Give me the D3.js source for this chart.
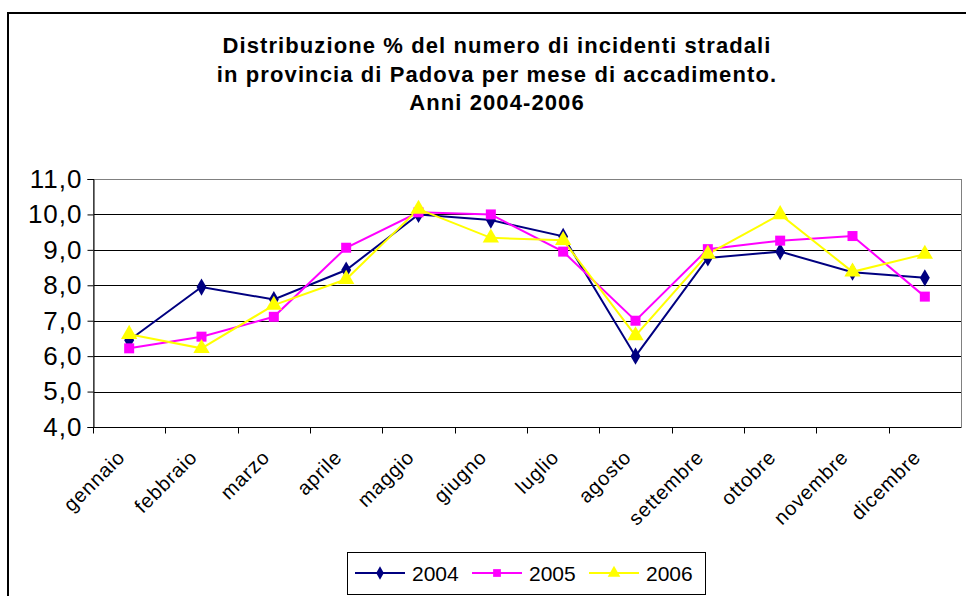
<!DOCTYPE html>
<html>
<head>
<meta charset="utf-8">
<script src="https://cdn.jsdelivr.net/npm/d3@7"></script>
<style>
  body { margin: 0; background: #fff; }
  text { font-family: "Liberation Sans", Arial, sans-serif; }
</style>
</head>
<body>
<script>
// months on the x axis
const months = ["gennaio", "febbraio", "marzo", "aprile", "maggio", "giugno",
                "luglio", "agosto", "settembre", "ottobre", "novembre", "dicembre"];

// % of road accidents per month
const y2004 = [6.45, 7.95, 7.6, 8.43, 10.0, 9.84, 9.38, 6.0, 8.77, 8.95, 8.37, 8.21];
const y2005 = [6.22, 6.55, 7.11, 9.06, 10.06, 10.0, 8.95, 7.0, 9.02, 9.26, 9.39, 7.68];
const y2006 = [6.62, 6.22, 7.44, 8.17, 10.15, 9.34, 9.27, 6.58, 8.88, 10.0, 8.38, 8.88];

const yTicks = [4, 5, 6, 7, 8, 9, 10, 11];
const titleLines = ["Distribuzione % del numero di incidenti stradali",
                    "in provincia di Padova per mese di accadimento.",
                    "Anni 2004-2006"];

const series = [
  { name: "2004", values: y2004, color: "#000080", marker: d3.symbolDiamond, size: 85 },
  { name: "2005", values: y2005, color: "#ff00ff", marker: d3.symbolSquare, size: 100 },
  { name: "2006", values: y2006, color: "#ffff00", marker: d3.symbolTriangle, size: 115 }
];

const W = 966, H = 596;
const plot = { left: 93, right: 961, top: 179, bottom: 427 };

const svg = d3.select("body").append("svg")
  .attr("width", W)
  .attr("height", H);

// outer chart frame (runs off the right and bottom of the picture)
svg.append("rect")
  .attr("x", 8).attr("y", 13)
  .attr("width", W + 10).attr("height", H + 10)
  .attr("fill", "none")
  .attr("stroke", "#000")
  .attr("stroke-width", 2);

// title
svg.append("g").selectAll("text")
  .data(titleLines)
  .join("text")
  .attr("x", 497)
  .attr("y", (d, i) => 53 + i * 28.5)
  .attr("text-anchor", "middle")
  .attr("font-size", 22)
  .attr("font-weight", "bold")
  .attr("letter-spacing", 1.1)
  .text(d => d);

const x = d3.scaleBand()
  .domain(months)
  .range([plot.left, plot.right]);

const y = d3.scaleLinear()
  .domain([4, 11])
  .range([plot.bottom, plot.top]);

// grid lines
svg.append("g").selectAll("line")
  .data(yTicks.slice(1, -1))
  .join("line")
  .attr("x1", plot.left).attr("x2", plot.right)
  .attr("y1", d => Math.round(y(d)) + 0.5)
  .attr("y2", d => Math.round(y(d)) + 0.5)
  .attr("stroke", "#000");

// plot area border
svg.append("rect")
  .attr("x", plot.left + 0.5).attr("y", plot.top + 0.5)
  .attr("width", plot.right - plot.left)
  .attr("height", plot.bottom - plot.top)
  .attr("fill", "none")
  .attr("stroke", "#808080");

// y axis
const yAxis = svg.append("g")
  .attr("transform", "translate(" + (plot.left + 0.5) + ",0)")
  .call(d3.axisLeft(y).tickValues(yTicks).tickSize(6).tickPadding(5)
    .tickFormat(d => d3.format(".1f")(d).replace(".", ",")));
yAxis.select(".domain").attr("stroke", "#000");
yAxis.selectAll("text").attr("font-size", 26).attr("fill", "#000")
  .attr("letter-spacing", 1)
  .attr("font-family", "Liberation Sans, Arial, sans-serif");

// x axis: ticks at category boundaries
const xAxis = svg.append("g")
  .attr("transform", "translate(0," + (plot.bottom + 0.5) + ")");
xAxis.append("line")
  .attr("x1", plot.left).attr("x2", plot.right)
  .attr("stroke", "#000");
xAxis.selectAll("line.tick")
  .data(months)
  .join("line")
  .attr("class", "tick")
  .attr("x1", d => Math.round(x(d)) + 0.5)
  .attr("x2", d => Math.round(x(d)) + 0.5)
  .attr("y1", 0).attr("y2", 6)
  .attr("stroke", "#000");
xAxis.selectAll("text")
  .data(months)
  .join("text")
  .attr("transform", d => "translate(" + (x(d) + x.bandwidth() / 2 - 3) + ",31) rotate(-45)")
  .attr("text-anchor", "end")
  .attr("font-size", 20)
  .attr("letter-spacing", 0.8)
  .text(d => d);

// lines and markers
const line = d3.line()
  .x((d, i) => x(months[i]) + x.bandwidth() / 2)
  .y(d => y(d));

series.forEach(s => {
  svg.append("path")
    .datum(s.values)
    .attr("fill", "none")
    .attr("stroke", s.color)
    .attr("stroke-width", 2)
    .attr("d", line);
});

series.forEach(s => {
  svg.append("g").selectAll("path")
    .data(s.values)
    .join("path")
    .attr("transform", (d, i) => "translate(" + (x(months[i]) + x.bandwidth() / 2) + "," + y(d) + ")")
    .attr("d", d3.symbol(s.marker, s.size))
    .attr("fill", s.color);
});

// legend
const legend = svg.append("g");
legend.append("rect")
  .attr("x", 347.5).attr("y", 552.5)
  .attr("width", 358).attr("height", 42)
  .attr("fill", "#fff")
  .attr("stroke", "#000");

const item = legend.selectAll("g")
  .data(series)
  .join("g")
  .attr("transform", (d, i) => "translate(" + (355 + i * 117) + ",573)");
item.append("line")
  .attr("x1", 0).attr("x2", 50)
  .attr("stroke", d => d.color)
  .attr("stroke-width", 2);
item.append("path")
  .attr("transform", "translate(25,0)")
  .attr("d", d => d3.symbol(d.marker, d.size * 0.6)())
  .attr("fill", d => d.color);
item.append("text")
  .attr("x", 57)
  .attr("dy", "0.36em")
  .attr("font-size", 21)
  .text(d => d.name);
</script>
</body>
</html>
